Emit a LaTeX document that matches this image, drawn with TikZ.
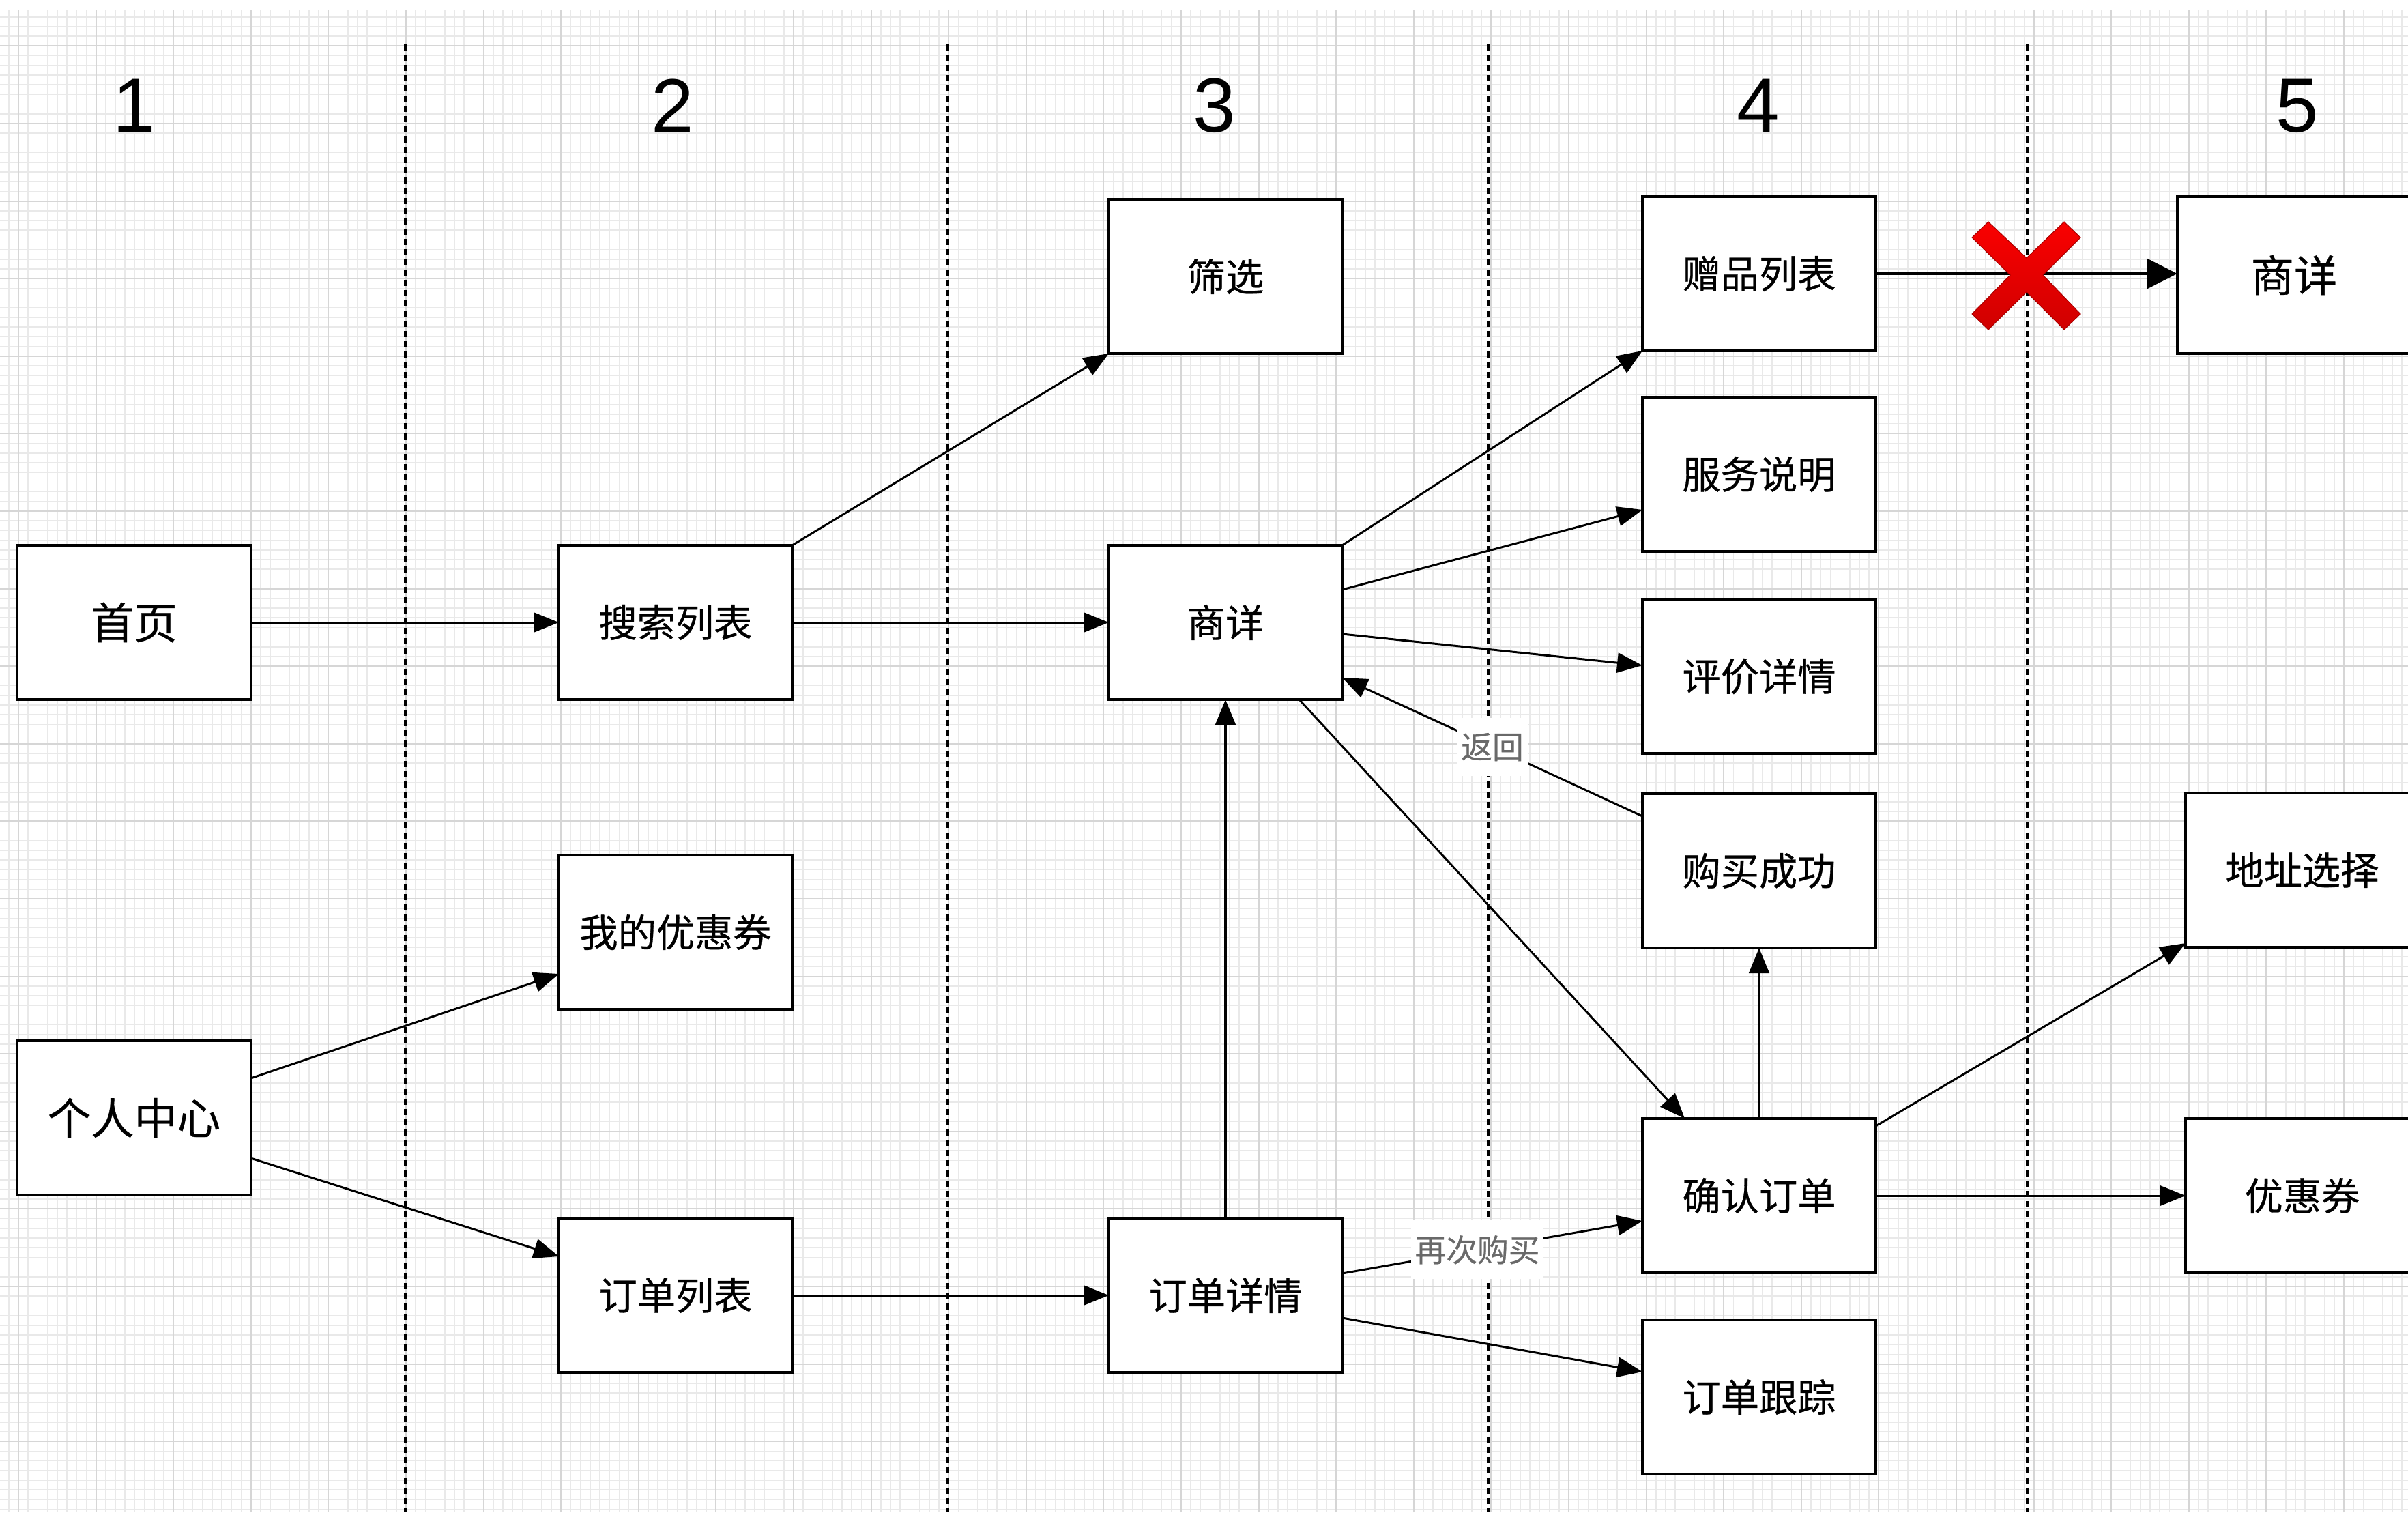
\documentclass[tikz,border=0pt]{standalone}
\usepackage{fontspec}
\newfontfamily\cjk[FakeBold=0.5]{Noto Sans CJK SC}
\newfontfamily\numfont{Liberation Sans}
\usetikzlibrary{arrows.meta, calc, positioning}
\definecolor{gridlo}{RGB}{233,233,233}
\definecolor{gridhi}{RGB}{214,214,214}
\definecolor{notegray}{RGB}{105,105,105}
\definecolor{xtop}{RGB}{250,0,0}
\definecolor{xbot}{RGB}{208,0,0}
\tikzset
{%
page/.style={draw, line width=1.1pt, fill=white, minimum width=3.42cm, minimum height=2.26cm, inner sep=0pt, outer sep=0pt, font=\cjk\fontsize{16}{19}\selectfont},
bigpage/.style={page, font=\cjk\fontsize{18}{21}\selectfont},
colno/.style={font=\numfont\fontsize{32}{36}\selectfont},
tag/.style={fill=white, text=notegray, inner xsep=0.06cm, inner ysep=0.22cm, font=\cjk\fontsize{13}{15}\selectfont},
arr/.style={-{Triangle[length=0.37cm, width=0.29cm]}, line width=0.85pt},
barr/.style={-{Triangle[length=0.37cm, width=0.29cm]}, line width=1.4pt},
garr/.style={-{Triangle[length=0.45cm, width=0.44cm]}, line width=1.4pt},
lane/.style={line width=1.1pt, dash pattern=on 0.09cm off 0.06cm},
xmark/.style={top color=xtop, bottom color=xbot, draw=xbot!80!black, line width=0.3pt}
}
\begin{document}
\begin{tikzpicture}
	\useasboundingbox (0,0) rectangle (35.29,-22.16);
	\clip (0,0) rectangle (35.29,-22.16);

		% [BACKGROUND GRID]
		\begin{scope}[shift={(0.27,-1.81)}]
			\draw[gridlo, line width=0.5pt, step=0.142] (-0.27,1.67) grid (35.02,-20.35);
			\draw[gridhi, line width=0.6pt, step=1.136] (-0.27,1.67) grid (35.02,-20.35);
		\end{scope}

		% [COLUMNS]
		\foreach \x in {5.94,13.89,21.81,29.71}
			\draw[lane] (\x,-0.65) -- (\x,-22.16);
		\foreach \x/\n in {1.97/1, 9.86/2, 17.80/3, 25.77/4, 33.67/5}
			\node[colno] (c\n) at (\x,-1.55) {\n};

		% Column 1
		\node[bigpage] (home) at (1.965,-9.12) {首页};
		\node[bigpage] (me) at (1.965,-16.38) {个人中心};

		% Column 2
		\node[page] (search) at (9.90,-9.12) {搜索列表};
		\node[page] (mycoupon) at (9.90,-13.66) {我的优惠券};
		\node[page] (orders) at (9.90,-18.98) {订单列表};

		% Column 3
		\node[page] (filter) at (17.96,-4.05) {筛选};
		\node[page] (detail) at (17.96,-9.12) {商详};
		\node[page] (orderinfo) at (17.96,-18.98) {订单详情};

		% Column 4
		\node[page] (gift) at (25.78,-4.01) {赠品列表};
		\node[page] (service) at (25.78,-6.95) {服务说明};
		\node[page] (review) at (25.78,-9.91) {评价详情};
		\node[page] (success) at (25.78,-12.76) {购买成功};
		\node[page] (confirm) at (25.78,-17.52) {确认订单};
		\node[page] (track) at (25.78,-20.47) {订单跟踪};

		% Column 5
		\node[bigpage, minimum height=2.30cm] (detailb) at (33.62,-4.03) {商详};
		\node[page] (addr) at (33.74,-12.75) {地址选择};
		\node[page] (coupon) at (33.74,-17.52) {优惠券};

		\path[arr] (home) edge (search)
		(search) edge (detail) (search.north east) edge (filter.south west)
		([yshift=0.58cm]me.east) edge ([yshift=-0.61cm]mycoupon.west)
		([yshift=-0.59cm]me.east) edge ([yshift=0.57cm]orders.west)
		(orders) edge (orderinfo);
		\path[arr] (detail.north east) edge (gift.south west)
		([yshift=0.48cm]detail.east) edge ([yshift=-0.52cm]service.west)
		([yshift=-0.17cm]detail.east) edge ([yshift=0.16cm]review.west)
		([yshift=0.80cm]success.west) edge node[tag] {返回} ([yshift=-0.81cm]detail.east)
		([xshift=1.08cm]detail.south) edge ([xshift=-1.09cm]confirm.north);
		\path[arr] ([yshift=0.32cm]orderinfo.east) edge node[tag, pos=0.45] {再次购买} ([yshift=-0.37cm]confirm.west)
		([yshift=-0.33cm]orderinfo.east) edge ([yshift=0.37cm]track.west);
		\path[arr] ([yshift=-0.11cm]confirm.north east) edge ([yshift=0.06cm]addr.south west)
		(confirm) edge (coupon);
		\path[barr] (orderinfo) edge (detail) (confirm) edge (success);
		\path[garr] (gift.east) edge (gift.east -| detailb.west);

		% red cross over the blocked link
		\begin{scope}[shift={(29.70,-4.03)}]
			\path[xmark] (-0.80,0.55) -- (-0.56,0.78) -- (0,0.25) -- (0.55,0.78) -- (0.79,0.55)
			-- (0.24,0) -- (0.79,-0.57) -- (0.55,-0.80) -- (0,-0.25) -- (-0.56,-0.80)
			-- (-0.80,-0.57) -- (-0.24,0) -- cycle;
		\end{scope}
\end{tikzpicture}
\end{document}
